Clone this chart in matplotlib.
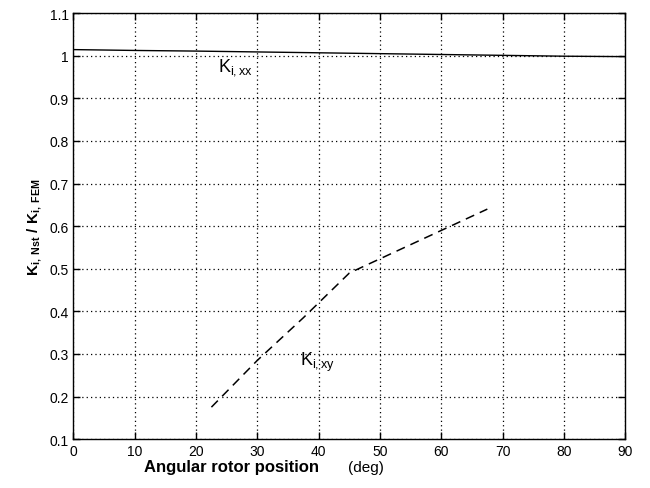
import matplotlib
matplotlib.use('Agg')
import matplotlib.pyplot as plt
from matplotlib.ticker import FuncFormatter

plt.rcParams['font.family'] = ['Liberation Sans', 'DejaVu Sans']
plt.rcParams['mathtext.fontset'] = 'custom'
plt.rcParams['mathtext.rm'] = 'Liberation Sans'
plt.rcParams['mathtext.it'] = 'Liberation Sans'
plt.rcParams['mathtext.bf'] = 'Liberation Sans:bold'

# K_i,xx ratio (solid)
angle_xx = [0, 10, 20, 30, 40, 50, 60, 70, 80, 90]
ratio_xx = [1.0145, 1.0125, 1.011, 1.009, 1.007, 1.005, 1.003, 1.001, 0.999, 0.998]

# K_i,xy ratio (dashed)
angle_xy = [22.5, 30, 37.5, 45, 52.5, 60, 67.5]
ratio_xy = [0.175, 0.285, 0.385, 0.49, 0.54, 0.59, 0.64]

xticks = [0, 10, 20, 30, 40, 50, 60, 70, 80, 90]
yticks = [0.1, 0.2, 0.3, 0.4, 0.5, 0.6, 0.7, 0.8, 0.9, 1.0, 1.1]

fig = plt.figure(figsize=(6.5, 4.89), dpi=100)
ax = fig.add_axes([0.113, 0.10, 0.849, 0.871])

ax.plot(angle_xx, ratio_xx, color='black', linestyle='-', linewidth=1.0)
ax.plot(angle_xy, ratio_xy, color='black', linestyle=(0, (6, 4)), linewidth=1.1)

ax.set_xlim(0, 90)
ax.set_ylim(0.1, 1.1)
ax.set_xticks(xticks)
ax.set_yticks(yticks)
ax.yaxis.set_major_formatter(FuncFormatter(lambda v, p: '%g' % round(v, 2)))
ax.tick_params(direction='in', top=True, right=True, labelsize=10, length=5, width=1)
ax.grid(True, color='black', linestyle=(0, (1, 2.5)), linewidth=0.9)
for s in ax.spines.values():
    s.set_linewidth(1.0)

ax.text(23.5, 0.965, r'K$_{\mathrm{i,xx}}$', fontsize=13)
ax.text(37.0, 0.275, r'K$_{\mathrm{i,xy}}$', fontsize=13)

ax.set_ylabel(r'$\mathbf{K_{i,\ Nst}\ /\ K_{i,\ FEM}}$', fontsize=11, fontweight='bold')
fig.text(0.49, 0.035, 'Angular rotor position', fontsize=12, fontweight='bold', ha='right')
fig.text(0.535, 0.035, '(deg)', fontsize=11, ha='left')

plt.savefig('out.png', dpi=100)
plt.close()
